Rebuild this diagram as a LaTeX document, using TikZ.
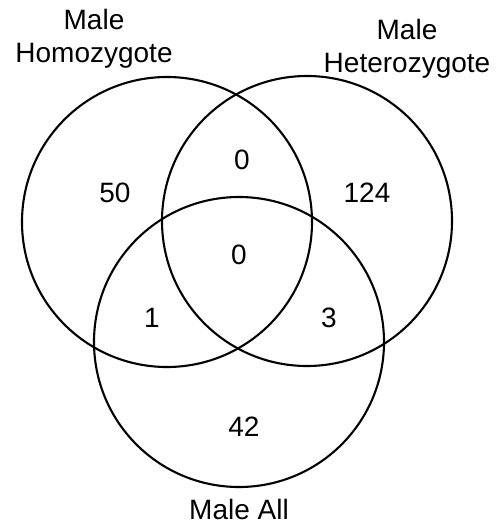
\documentclass[tikz,border=0pt]{standalone}
\usepackage{fontspec}
\setmainfont{Liberation Sans}
\begin{document}
\begin{tikzpicture}[x=1pt,y=-1pt,
  setcircle/.style={draw=black,line width=2.1pt,circle,minimum size=290pt,inner sep=0pt},
  lbl/.style={font=\fontsize{28}{33}\selectfont,align=center,inner sep=0pt},
  num/.style={font=\fontsize{28}{33}\selectfont,inner sep=0pt}]
\useasboundingbox (0,0) rectangle (500,532);
\node[setcircle] (homo) at (167,222) {};
\node[setcircle] (hetero) at (307,221) {};
\node[setcircle] (all) at (239,342) {};
\node[lbl] (thomo) at (94,39) {Male\\Homozygote};
\node[lbl] (thetero) at (407,49) {Male\\Heterozygote};
\node[lbl] (tall) at (239,509) {Male All};
\node[num] (n50) at (115,193) {50};
\node[num] (n0a) at (242,160) {0};
\node[num] (n124) at (367,193) {124};
\node[num] (n0b) at (239,255) {0};
\node[num] (n1) at (152,318) {1};
\node[num] (n3) at (329,318) {3};
\node[num] (n42) at (244,427) {42};
\end{tikzpicture}
\end{document}
